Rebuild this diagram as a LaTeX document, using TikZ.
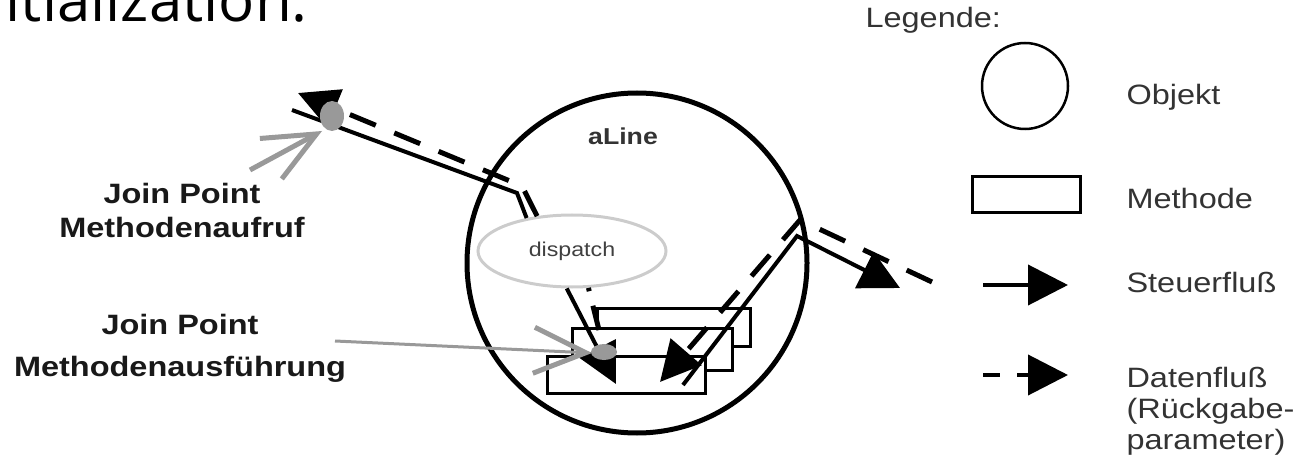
\documentclass[tikz,border=0pt]{standalone}
\usepackage{fontspec}
\setmainfont{Liberation Sans}[FakeStretch=1.16]
\newfontfamily\titlefont{Open Sans}
\usetikzlibrary{arrows.meta,shapes.geometric}

\definecolor{jpgray}{HTML}{999999}
\definecolor{txtgray}{HTML}{333333}

\begin{document}
\begin{tikzpicture}[x=1pt,y=-1pt,
  flow/.style={line width=4pt, -{Triangle[length=40pt,width=40pt]}},
  data/.style={line width=5pt, dash pattern=on 28pt off 20pt, -{Triangle[length=40pt,width=40pt]}},
  jparrow/.style={jpgray, -{Straight Barb[length=52pt,width=46pt,line width=5pt]}},
  methodbox/.style={draw, fill=white, line width=3pt, inner sep=0pt},
  jplabel/.style={font=\bfseries\fontsize{28}{34}\selectfont, text=black!90, align=center},
  legtext/.style={font=\fontsize{28}{31}\selectfont, text=txtgray, anchor=base west, align=left}]
  \useasboundingbox (0,0) rectangle (1293,465);
  \clip (0,0) rectangle (1293,465);
  % slide title, cut off
  \node[font=\titlefont\fontsize{60}{60}\selectfont, anchor=base east, inner sep=0pt] (title) at (308,22) {itialization.};
  % object with dispatcher and methods
  \node[circle, draw, line width=5pt, minimum size=340pt] (aline) at (637,263) {};
  \node[font=\bfseries\fontsize{23}{23}\selectfont, text=txtgray] (alinelabel) at (623,136) {aLine};
  \node[ellipse, draw=black!20, line width=3pt, minimum width=188pt, minimum height=72pt, inner sep=0pt,
        font=\fontsize{20}{20}\selectfont, text=black!75] (dispatch) at (572,251) {dispatch};
  \node[methodbox, minimum width=153pt, minimum height=38pt] (mback) at (673.5,327) {};
  \node[methodbox, minimum width=160pt, minimum height=42pt] (mmid) at (652,349) {};
  \node[methodbox, minimum width=158pt, minimum height=37pt] (mfront) at (626,374.5) {};
  % control flow
  \coordinate (callin) at (292,110);
  \coordinate (callbend) at (517,193);
  \coordinate (callhit) at (616,384);
  \draw[line width=4pt] (callin) -- (callbend) -- (dispatch.144);
  \draw[flow] (dispatch.262) -- (callhit);
  \coordinate (outstart) at (683,385);
  \coordinate (outbend) at (797,236);
  \coordinate (outend) at (900,288);
  \draw[flow] (outstart) -- (outbend) -- (outend);
  % data flow
  \coordinate (datain) at (932,282);
  \coordinate (databend) at (800,220);
  \coordinate (datahit) at (660,382);
  \draw[data] (datain) -- (databend) -- (datahit);
  \coordinate (retstart) at (599,330);
  \draw[line width=5pt, dash pattern=on 25pt off 15pt] (retstart) -- (dispatch.294);
  \coordinate (retbend) at (522,186);
  \coordinate (retend) at (298,93);
  \draw[data] (dispatch.135) -- (retbend) -- (retend);
  % join points
  \node[jplabel] (jpcall) at (182,210) {Join Point\\Methodenaufruf};
  \node[jplabel, font=\bfseries\fontsize{28}{42}\selectfont] (jpexec) at (180,348) {Join Point\\Methodenausführung};
  \coordinate (jpcallfrom) at (250,170);
  \coordinate (jpcallto) at (322,131);
  \draw[jparrow, line width=5pt] (jpcallfrom) -- (jpcallto);
  \fill[jpgray] (332,116) ellipse (12 and 15);
  \coordinate (jpexecfrom) at (335,341);
  \coordinate (jpexecto) at (592,353);
  \draw[jparrow, line width=3pt] (jpexecfrom) -- (jpexecto);
  \fill[jpgray] (604,352) ellipse (13 and 8);
  % legend
  \node[legtext] (legend) at (862,28) {Legende:};
  \node[circle, draw, line width=2.5pt, minimum size=86pt] (legobj) at (1025,86) {};
  \node[legtext] (legobjtext) at (1123,105) {Objekt};
  \node[draw, line width=3pt, minimum width=108pt, minimum height=36pt] (legmeth) at (1026,195) {};
  \node[legtext] (legmethtext) at (1123,209) {Methode};
  \coordinate (legctrlA) at (983,285);
  \coordinate (legctrlB) at (1068,285);
  \draw[flow] (legctrlA) -- (legctrlB);
  \node[legtext] (legctrltext) at (1123,292) {Steuerfluß};
  \coordinate (legdataA) at (983,375);
  \coordinate (legdataB) at (1068,375);
  \draw[flow, dash pattern=on 17pt off 17pt] (legdataA) -- (legdataB);
  \node[legtext] (legdatatext) at (1123,449) {Datenfluß\\(Rückgabe-\\parameter)};
\end{tikzpicture}
\end{document}
